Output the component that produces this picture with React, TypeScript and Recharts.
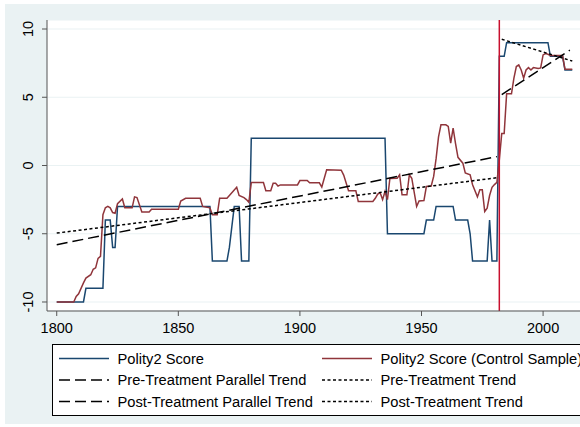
import { LineChart, Line, XAxis, YAxis, CartesianGrid, ReferenceLine } from "recharts";

// Polity2 score, years where the line bends
const blueYears = [
  1800, 1811, 1812, 1819, 1820, 1822, 1823, 1824, 1825, 1863, 1864, 1870, 1871, 1872, 1873, 1875,
  1876, 1879, 1880, 1935, 1936, 1951, 1952, 1955, 1956, 1963, 1964, 1969, 1970, 1971, 1977, 1978,
  1979, 1981, 1982, 1984, 1985, 2002, 2003, 2008, 2009, 2012,
];
const blueValues = [
  -10, -10, -9, -9, -4, -4, -6, -6, -3, -3, -7, -7, -6, -4.5, -3, -3,
  -7, -7, 2, 2, -5, -5, -4, -4, -3, -3, -4, -4, -5, -7, -7, -4,
  -7, -7, 8, 8, 9, 9, 8, 8, 7, 7,
];

// Polity2 score of the control sample
const redYears = [
  1800, 1807, 1808, 1809, 1811, 1812, 1814, 1815, 1816, 1817, 1818, 1819, 1820, 1821, 1822, 1823,
  1824, 1825, 1827, 1828, 1831, 1832, 1833, 1835, 1838, 1839, 1850, 1851, 1853, 1859, 1860, 1863,
  1864, 1866, 1867, 1870, 1871, 1872, 1873, 1874, 1875, 1877, 1878, 1879, 1880, 1885, 1886, 1888,
  1889, 1890, 1891, 1892, 1899, 1900, 1903, 1904, 1908, 1909, 1911, 1917, 1918, 1920, 1923, 1924,
  1930, 1931, 1932, 1933, 1934, 1935, 1936, 1937, 1940, 1941, 1942, 1944, 1945, 1946, 1948, 1949,
  1951, 1952, 1954, 1955, 1956, 1957, 1958, 1960, 1961, 1962, 1963, 1964, 1965, 1967, 1968, 1970,
  1971, 1973, 1974, 1975, 1976, 1977, 1978, 1979, 1980, 1981, 1982, 1983, 1984, 1985, 1987, 1988,
  1989, 1990, 1991, 1992, 1993, 1994, 1995, 1996, 1998, 1999, 2000, 2001, 2002, 2003, 2008, 2009,
  2012,
];
const redValues = [
  -10, -10, -9.6, -9.4, -8.6, -8.25, -8.0, -7.6, -7.5, -6.8, -6.65, -3.6, -3.1, -3.0, -3.1, -3.45,
  -3.5, -2.8, -2.45, -3.1, -3.1, -2.3, -2.35, -3.4, -3.4, -3.2, -3.2, -2.6, -2.4, -2.4, -3.0, -3.1,
  -3.6, -3.6, -2.4, -2.4, -2.2, -2.0, -1.8, -1.6, -2.2, -2.35, -2.5, -2.7, -1.25, -1.25, -1.85, -1.85,
  -1.3, -1.3, -1.5, -1.42, -1.42, -1.1, -1.1, -1.27, -1.27, -1.58, -0.32, -0.35, -0.7, -1.85, -1.85, -2.63,
  -2.63, -2.4, -2.1, -2.0, -2.5, -1.9, -2.5, -0.95, -0.93, -0.68, -2.15, -2.15, -0.68, -0.93, -3.0, -2.6,
  -2.57, -1.54, -1.5, -0.8, 0.5, 2.1, 2.98, 2.98, 2.86, 1.64, 2.74, 1.6, 0.6, 0.17, -0.55, -0.68,
  -1.41, -2.3, -1.78, -1.78, -3.37, -3.13, -2.2, -1.6, -1.4, -1.24, 0.4, 2.35, 2.35, 5.25, 5.25, 6.4,
  7.25, 7.37, 7.0, 6.4, 7.0, 7.17, 7.0, 7.17, 7.1, 7.15, 8.1, 8.2, 8.15, 8.05, 8.05, 7.06,
  7.06,
];

// fitted trends (endpoints)
const preParallelYears = [1800, 1981];
const preParallelValues = [-5.8, 0.65];
const preTrendYears = [1800, 1981];
const preTrendValues = [-4.95, -0.9];
const postParallelYears = [1983, 2011];
const postParallelValues = [5.2, 8.45];
const postTrendYears = [1983, 2012];
const postTrendValues = [9.25, 7.65];

const treatmentYear = 1982;
const xTicks = [1800, 1850, 1900, 1950, 2000];
const yTicks = [-10, -5, 0, 5, 10];

const legendLabels = [
  "Polity2 Score",
  "Polity2 Score (Control Sample)",
  "Pre-Treatment Parallel Trend",
  "Pre-Treatment Trend",
  "Post-Treatment Parallel Trend",
  "Post-Treatment Trend",
];

const BLUE = "#1a476f";
const RED = "#90353b";
const BG = "#eaf2f3";
const LONG = "11 5";
const SHORT = "3 2.5";
const FONT = "'Liberation Sans', Arial, Helvetica, sans-serif";
const TICK_SIZE = 14.5;
const LEGEND_SIZE = 14.7;

const legendColors = [BLUE, RED, "#000", "#000", "#000", "#000"];
const legendDashes = [undefined, undefined, LONG, SHORT, LONG, SHORT];

const toPoints = (years: number[], values: number[]) =>
  years.map((year, i) => ({ year, v: values[i] }));

const blueData = toPoints(blueYears, blueValues);
const redData = toPoints(redYears, redValues);
const preParallel = toPoints(preParallelYears, preParallelValues);
const preTrend = toPoints(preTrendYears, preTrendValues);
const postParallel = toPoints(postParallelYears, postParallelValues);
const postTrend = toPoints(postTrendYears, postTrendValues);

const YTick = (props: any) => {
  const { y, payload } = props;
  return (
    <text
      x={33}
      y={y}
      transform={`rotate(-90 33 ${y})`}
      textAnchor="middle"
      fontSize={TICK_SIZE}
      fontFamily={FONT}
      fill="#000"
    >
      {payload.value}
    </text>
  );
};

const LegendBox = () => (
  <svg width={540} height={74} style={{ position: "absolute", left: 52, top: 344 }}>
    <rect x={0.5} y={0.5} width={600} height={71} fill="#fff" stroke="#000" strokeWidth={1} />
    {legendLabels.map((label, i) => {
      const col = i % 2;
      const row = Math.floor(i / 2);
      const cy = 14.5 + row * 21.5;
      const x0 = col === 0 ? 7 : 270;
      return (
        <g key={label}>
          <line
            x1={x0}
            x2={x0 + 50}
            y1={cy}
            y2={cy}
            stroke={legendColors[i]}
            strokeWidth={1.5}
            strokeDasharray={legendDashes[i]}
          />
          <text x={x0 + 58.5} y={cy + 5.2} fontSize={LEGEND_SIZE} fontFamily={FONT} fill="#000">
            {label}
          </text>
        </g>
      );
    })}
  </svg>
);

export default function App() {
  return (
    <div
      style={{
        position: "absolute",
        left: 0,
        top: 0,
        width: 580,
        height: 427,
        overflow: "hidden",
        background: "#fff",
      }}
    >
      <div style={{ position: "absolute", left: 5, top: 4, width: 600, height: 420, background: BG }} />
      <div style={{ position: "absolute", left: 0, top: 0 }}>
        <LineChart width={600} height={427} margin={{ top: 20, right: 18, bottom: 86, left: 0 }}>
          <CartesianGrid vertical={false} fill="#fff" stroke={BG} strokeWidth={1.2} />
          <XAxis
            type="number"
            dataKey="year"
            domain={[1796, 2016]}
            ticks={xTicks}
            allowDataOverflow
            height={30}
            tickSize={5}
            tickMargin={7}
            stroke="#555"
            tick={{ fill: "#000", fontSize: TICK_SIZE, fontFamily: FONT }}
          />
          <YAxis
            type="number"
            dataKey="v"
            domain={[-10.66, 10.66]}
            ticks={yTicks}
            allowDataOverflow
            width={47}
            tickSize={5}
            stroke="#555"
            tick={<YTick />}
          />
          <Line data={blueData} dataKey="v" type="linear" stroke={BLUE} strokeWidth={1.5} dot={false} isAnimationActive={false} />
          <Line data={redData} dataKey="v" type="linear" stroke={RED} strokeWidth={1.5} dot={false} isAnimationActive={false} />
          <Line data={preParallel} dataKey="v" type="linear" stroke="#000" strokeWidth={1.5} strokeDasharray={LONG} dot={false} isAnimationActive={false} />
          <Line data={preTrend} dataKey="v" type="linear" stroke="#000" strokeWidth={1.5} strokeDasharray={SHORT} dot={false} isAnimationActive={false} />
          <Line data={postParallel} dataKey="v" type="linear" stroke="#000" strokeWidth={1.5} strokeDasharray={LONG} dot={false} isAnimationActive={false} />
          <Line data={postTrend} dataKey="v" type="linear" stroke="#000" strokeWidth={1.5} strokeDasharray={SHORT} dot={false} isAnimationActive={false} />
          <ReferenceLine x={treatmentYear} stroke="#c8102e" strokeWidth={1.5} />
        </LineChart>
      </div>
      <LegendBox />
    </div>
  );
}
